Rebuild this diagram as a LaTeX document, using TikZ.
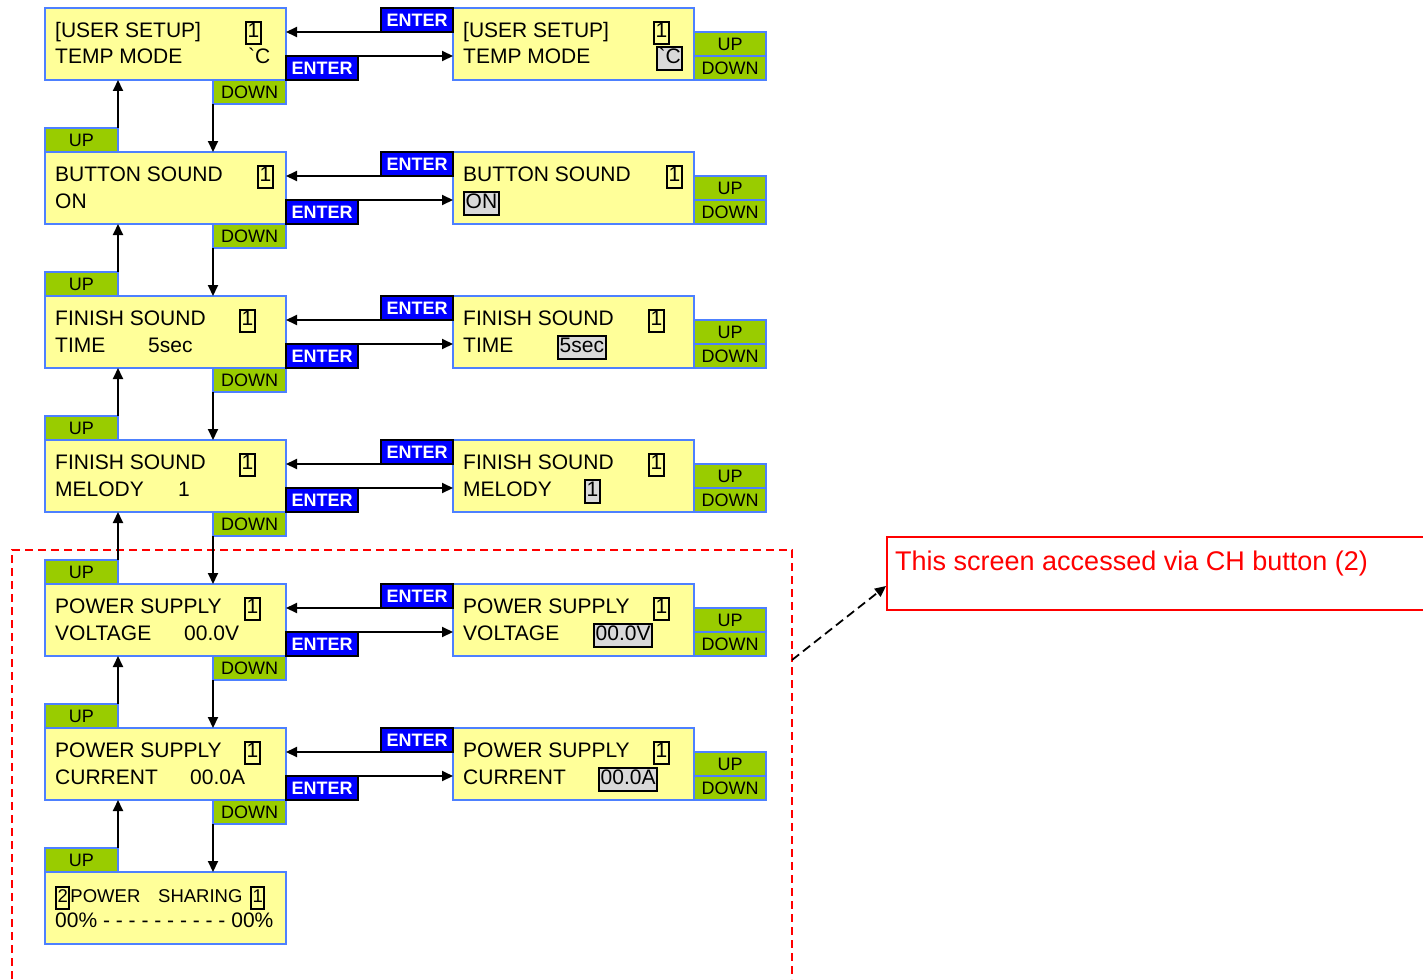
\documentclass[tikz,border=0pt]{standalone}
\usepackage{fontspec}
\setmainfont{Liberation Sans}
\usepackage{tikz}
\usetikzlibrary{arrows.meta, positioning}
\usepackage{xcolor}

\definecolor{scrfill}{RGB}{255,255,153}
\definecolor{scrline}{RGB}{77,128,255}
\definecolor{tabgreen}{RGB}{153,204,0}
\definecolor{entblue}{RGB}{0,0,255}
\definecolor{selgray}{RGB}{217,217,217}

\setlength{\fboxsep}{0.5pt}
\setlength{\fboxrule}{2pt}
\newcommand{\curval}[1]{\fbox{\rule[-5pt]{0pt}{19pt}#1}}
\newcommand{\selval}[1]{\fcolorbox{black}{selgray}{\rule[-5pt]{0pt}{19pt}#1}}

\begin{document}
\begin{tikzpicture}[
    x=1pt, y=-1pt,
    screen/.style = {rectangle, draw=scrline, line width=2pt, fill=scrfill, minimum width=241pt, minimum height=72pt, inner sep=0pt, outer sep=0pt},
    tab/.style = {rectangle, draw=scrline, line width=2pt, fill=tabgreen, minimum width=73pt, minimum height=24pt, inner sep=0pt, outer sep=0pt, font=\fontsize{18}{20}\selectfont},
    enter/.style = {rectangle, draw=black, line width=2pt, fill=entblue, text=white, minimum width=72pt, minimum height=24pt, inner sep=0pt, outer sep=0pt, font=\fontsize{18}{20}\selectfont\bfseries},
    txt/.style = {anchor=base west, inner sep=0pt, font=\fontsize{21}{25}\selectfont},
    small/.style = {font=\fontsize{18.5}{22}\selectfont},
    arr/.style = {draw=black, line width=2pt, -{Triangle[length=11pt,width=10pt]}},
    frame/.style = {draw=red, line width=2pt, dash pattern=on 8pt off 5pt},
    note/.style = {rectangle, draw=red, line width=2pt, minimum width=544pt, minimum height=73pt, anchor=north west, inner sep=0pt},
    notetext/.style = {anchor=base west, inner sep=0pt, text=red, font=\fontsize{27}{30}\selectfont},
    dasharr/.style = {draw=black, line width=1.8pt, dash pattern=on 9pt off 5pt, -{Triangle[length=11pt,width=10pt]}}
]
\useasboundingbox (0,0) rectangle (1423,979);

% CH button area
\draw [frame] (12,979) |- (792,550) -- (792,979);

% Menu screens
\node (L1) [screen] at (165.5, 44) {};
\node (L2) [screen] at (165.5, 188) {};
\node (L3) [screen] at (165.5, 332) {};
\node (L4) [screen] at (165.5, 476) {};
\node (L5) [screen] at (165.5, 620) {};
\node (L6) [screen] at (165.5, 764) {};
\node (L7) [screen] at (165.5, 908) {};

% Edit screens
\node (R1) [screen] at (573.5, 44) {};
\node (R2) [screen] at (573.5, 188) {};
\node (R3) [screen] at (573.5, 332) {};
\node (R4) [screen] at (573.5, 476) {};
\node (R5) [screen] at (573.5, 620) {};
\node (R6) [screen] at (573.5, 764) {};

% Screen texts
\node (L1a) [txt] at (55, 37.7) {\makebox[190pt][l]{[USER SETUP]}\curval{1}};
\node (L1b) [txt] at (55, 64) {\makebox[193pt][l]{TEMP MODE}\textasciigrave C};
\node (L2a) [txt] at (55, 181.7) {\makebox[202pt][l]{BUTTON SOUND}\curval{1}};
\node (L2b) [txt] at (55, 208) {ON};
\node (L3a) [txt] at (55, 325.7) {\makebox[184pt][l]{FINISH SOUND}\curval{1}};
\node (L3b) [txt] at (55, 352) {\makebox[93pt][l]{TIME}5sec};
\node (L4a) [txt] at (55, 469.7) {\makebox[184pt][l]{FINISH SOUND}\curval{1}};
\node (L4b) [txt] at (55, 496) {\makebox[123pt][l]{MELODY}1};
\node (L5a) [txt] at (55, 613.7) {\makebox[189pt][l]{POWER SUPPLY}\curval{1}};
\node (L5b) [txt] at (55, 640) {\makebox[129pt][l]{VOLTAGE}00.0V};
\node (L6a) [txt] at (55, 757.7) {\makebox[189pt][l]{POWER SUPPLY}\curval{1}};
\node (L6b) [txt] at (55, 784) {\makebox[135pt][l]{CURRENT}00.0A};
\node (L7a) [txt, small] at (55, 902) {\makebox[103pt][l]{\curval{2}POWER}\makebox[92pt][l]{SHARING}\curval{1}};
\node (L7b) [txt] at (55, 927) {00\% - - - - - - - - - - 00\%};

\node (R1a) [txt] at (463, 37.7) {\makebox[190pt][l]{[USER SETUP]}\curval{1}};
\node (R1b) [txt] at (463, 64) {\makebox[193pt][l]{TEMP MODE}\selval{\textasciigrave C}};
\node (R2a) [txt] at (463, 181.7) {\makebox[203pt][l]{BUTTON SOUND}\curval{1}};
\node (R2b) [txt] at (463, 208) {\selval{ON}};
\node (R3a) [txt] at (463, 325.7) {\makebox[185pt][l]{FINISH SOUND}\curval{1}};
\node (R3b) [txt] at (463, 352) {\makebox[94pt][l]{TIME}\selval{5sec}};
\node (R4a) [txt] at (463, 469.7) {\makebox[185pt][l]{FINISH SOUND}\curval{1}};
\node (R4b) [txt] at (463, 496) {\makebox[121pt][l]{MELODY}\selval{1}};
\node (R5a) [txt] at (463, 613.7) {\makebox[190pt][l]{POWER SUPPLY}\curval{1}};
\node (R5b) [txt] at (463, 640) {\makebox[130pt][l]{VOLTAGE}\selval{00.0V}};
\node (R6a) [txt] at (463, 757.7) {\makebox[190pt][l]{POWER SUPPLY}\curval{1}};
\node (R6b) [txt] at (463, 784) {\makebox[135pt][l]{CURRENT}\selval{00.0A}};

% UP / DOWN keys of the menu
\node (D1) [tab, anchor=north east] at (L1.south east) {DOWN};
\node (D2) [tab, anchor=north east] at (L2.south east) {DOWN};
\node (D3) [tab, anchor=north east] at (L3.south east) {DOWN};
\node (D4) [tab, anchor=north east] at (L4.south east) {DOWN};
\node (D5) [tab, anchor=north east] at (L5.south east) {DOWN};
\node (D6) [tab, anchor=north east] at (L6.south east) {DOWN};
\node (U2) [tab, anchor=south west] at (L2.north west) {UP};
\node (U3) [tab, anchor=south west] at (L3.north west) {UP};
\node (U4) [tab, anchor=south west] at (L4.north west) {UP};
\node (U5) [tab, anchor=south west] at (L5.north west) {UP};
\node (U6) [tab, anchor=south west] at (L6.north west) {UP};
\node (U7) [tab, anchor=south west] at (L7.north west) {UP};

% UP / DOWN keys of the edit screens
\node (RD1) [tab, minimum width=72pt, anchor=south west] at (R1.south east) {DOWN};
\node (RD2) [tab, minimum width=72pt, anchor=south west] at (R2.south east) {DOWN};
\node (RD3) [tab, minimum width=72pt, anchor=south west] at (R3.south east) {DOWN};
\node (RD4) [tab, minimum width=72pt, anchor=south west] at (R4.south east) {DOWN};
\node (RD5) [tab, minimum width=72pt, anchor=south west] at (R5.south east) {DOWN};
\node (RD6) [tab, minimum width=72pt, anchor=south west] at (R6.south east) {DOWN};
\node (RU1) [tab, minimum width=72pt, anchor=south west] at (RD1.north west) {UP};
\node (RU2) [tab, minimum width=72pt, anchor=south west] at (RD2.north west) {UP};
\node (RU3) [tab, minimum width=72pt, anchor=south west] at (RD3.north west) {UP};
\node (RU4) [tab, minimum width=72pt, anchor=south west] at (RD4.north west) {UP};
\node (RU5) [tab, minimum width=72pt, anchor=south west] at (RD5.north west) {UP};
\node (RU6) [tab, minimum width=72pt, anchor=south west] at (RD6.north west) {UP};

% ENTER keys
\node (EI1) [enter, anchor=south west] at (L1.south east) {ENTER};
\node (EI2) [enter, anchor=south west] at (L2.south east) {ENTER};
\node (EI3) [enter, anchor=south west] at (L3.south east) {ENTER};
\node (EI4) [enter, anchor=south west] at (L4.south east) {ENTER};
\node (EI5) [enter, anchor=south west] at (L5.south east) {ENTER};
\node (EI6) [enter, anchor=south west] at (L6.south east) {ENTER};
\node (EO1) [enter, anchor=north east] at (R1.north west) {ENTER};
\node (EO2) [enter, anchor=north east] at (R2.north west) {ENTER};
\node (EO3) [enter, anchor=north east] at (R3.north west) {ENTER};
\node (EO4) [enter, anchor=north east] at (R4.north west) {ENTER};
\node (EO5) [enter, anchor=north east] at (R5.north west) {ENTER};
\node (EO6) [enter, anchor=north east] at (R6.north west) {ENTER};

% Menu arrows
\draw [arr] (D1.south west) -- (D1.south west |- L2.north);
\draw [arr] (D2.south west) -- (D2.south west |- L3.north);
\draw [arr] (D3.south west) -- (D3.south west |- L4.north);
\draw [arr] (D4.south west) -- (D4.south west |- L5.north);
\draw [arr] (D5.south west) -- (D5.south west |- L6.north);
\draw [arr] (D6.south west) -- (D6.south west |- L7.north);
\draw [arr] (U2.north east) -- (U2.north east |- L1.south);
\draw [arr] (U3.north east) -- (U3.north east |- L2.south);
\draw [arr] (U4.north east) -- (U4.north east |- L3.south);
\draw [arr] (U5.north east) -- (U5.north east |- L4.south);
\draw [arr] (U6.north east) -- (U6.north east |- L5.south);
\draw [arr] (U7.north east) -- (U7.north east |- L6.south);

% Enter / leave edit screens
\draw [arr] (EI1.north west) -- (EI1.north west -| R1.west);
\draw [arr] (EI2.north west) -- (EI2.north west -| R2.west);
\draw [arr] (EI3.north west) -- (EI3.north west -| R3.west);
\draw [arr] (EI4.north west) -- (EI4.north west -| R4.west);
\draw [arr] (EI5.north west) -- (EI5.north west -| R5.west);
\draw [arr] (EI6.north west) -- (EI6.north west -| R6.west);
\draw [arr] (EO1.south east) -- (EO1.south east -| L1.east);
\draw [arr] (EO2.south east) -- (EO2.south east -| L2.east);
\draw [arr] (EO3.south east) -- (EO3.south east -| L3.east);
\draw [arr] (EO4.south east) -- (EO4.south east -| L4.east);
\draw [arr] (EO5.south east) -- (EO5.south east -| L5.east);
\draw [arr] (EO6.south east) -- (EO6.south east -| L6.east);

% Note
\node (note) [note] at (886, 536) {};
\node (notetxt) [notetext] at (895, 570) {This screen accessed via CH button (2)};
\coordinate (chframe) at (792, 660);
\draw [dasharr] (chframe) -- ([yshift=-12.5pt]note.west);

\end{tikzpicture}
\end{document}
